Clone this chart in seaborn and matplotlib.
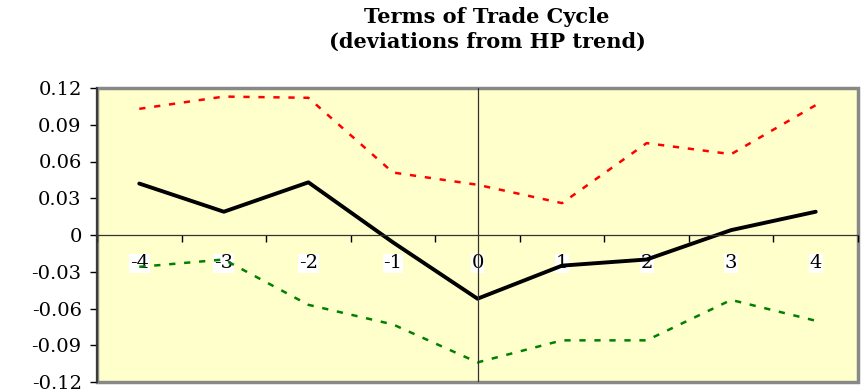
import matplotlib
matplotlib.use("Agg")
import matplotlib.pyplot as plt
import seaborn as sns
import pandas as pd

# lags around the terms-of-trade cycle
lags = [-4, -3, -2, -1, 0, 1, 2, 3, 4]
corr = [0.042, 0.019, 0.043, -0.006, -0.052, -0.025, -0.020, 0.004, 0.019]
upper = [0.103, 0.113, 0.112, 0.051, 0.041, 0.026, 0.075, 0.066, 0.106]
lower = [-0.026, -0.020, -0.057, -0.073, -0.104, -0.086, -0.086, -0.053, -0.070]
yticks = [-0.12, -0.09, -0.06, -0.03, 0, 0.03, 0.06, 0.09, 0.12]
ylabels = ["-0.12", "-0.09", "-0.06", "-0.03", "0", "0.03", "0.06", "0.09", "0.12"]

sns.set_style("white")
plt.rcParams["font.family"] = ["DejaVu Serif"]
plt.rcParams["text.color"] = "black"
plt.rcParams["xtick.color"] = "black"
plt.rcParams["ytick.color"] = "black"

df = pd.DataFrame({"pos": range(len(lags)), "corr": corr, "upper": upper, "lower": lower})

fig = plt.figure(figsize=(8.65, 3.92), dpi=100)
ax = fig.add_axes([97 / 865, 10 / 392, 761 / 865, 294 / 392])
ax.set_facecolor("#FFFFCC")

sns.lineplot(data=df, x="pos", y="upper", ax=ax, color="red", lw=1.8,
             linestyle=(0, (2.5, 3.5)))
sns.lineplot(data=df, x="pos", y="lower", ax=ax, color="green", lw=1.8,
             linestyle=(0, (2.5, 3.5)))
sns.lineplot(data=df, x="pos", y="corr", ax=ax, color="black", lw=2.8)
ax.axvline(lags.index(0), color="#333333", lw=0.9)

ax.set_xlim(-0.5, len(lags) - 0.5)
ax.set_ylim(-0.12, 0.12)
ax.set_xlabel("")
ax.set_ylabel("")

ax.set_yticks(yticks)
ax.set_yticklabels(ylabels, fontsize=14)
ax.tick_params(axis="y", direction="out", length=5, width=1, left=True, pad=6)

# category axis sits on the zero line, ticks between categories
ax.spines["bottom"].set_position(("data", 0))
ax.spines["bottom"].set_color("#333333")
ax.spines["bottom"].set_linewidth(0.9)
ax.set_xticks(range(len(lags)))
ax.set_xticklabels([str(v) for v in lags], fontsize=14)
ax.set_xticks([i + 0.5 for i in range(-1, len(lags))], minor=True)
ax.tick_params(axis="x", which="major", length=0, pad=14)
ax.tick_params(axis="x", which="minor", direction="out", length=5, width=1, bottom=True)
for lbl in ax.get_xticklabels():
    lbl.set_bbox(dict(facecolor="white", edgecolor="none", pad=0.5))

ax.spines["left"].set_color("#333333")
ax.spines["left"].set_linewidth(1.3)
for s in ["top", "right"]:
    ax.spines[s].set_visible(False)
ax.patch.set_edgecolor("#888888")
ax.patch.set_linewidth(2.5)

fig.text(0.563, 1 - 7 / 392, "Terms of Trade Cycle\n(deviations from HP trend)",
         ha="center", va="top", fontsize=15, fontweight="bold", linespacing=1.3)

fig.savefig("out.png", dpi=100)
